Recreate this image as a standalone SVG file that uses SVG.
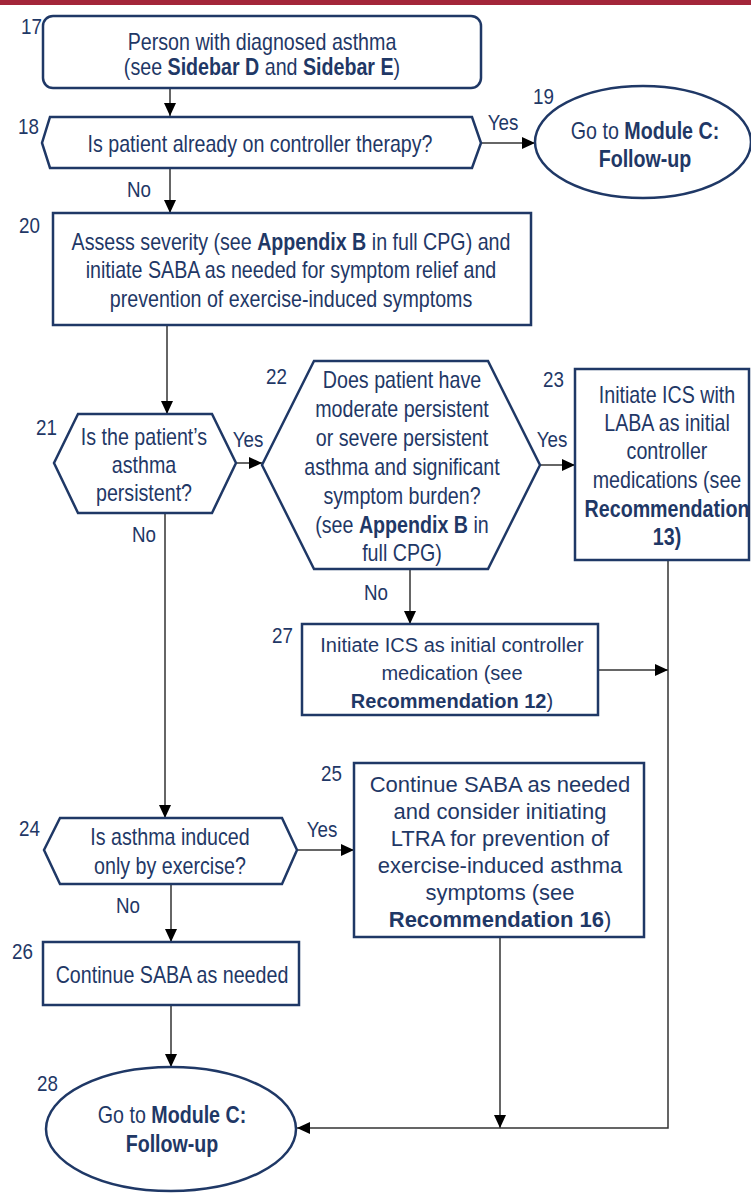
<svg xmlns="http://www.w3.org/2000/svg" width="751" height="1203" viewBox="0 0 751 1203">
<style>
.node{fill:#fff;stroke:#1F3866;stroke-width:2.5}
.t{font-family:"Liberation Sans",Arial,sans-serif;font-size:23px;fill:#1F3866;text-anchor:middle}
.w{font-family:"Liberation Sans",Arial,sans-serif;font-size:22px;fill:#1F3866;text-anchor:middle}
.n{font-family:"Liberation Sans",Arial,sans-serif;font-size:22px;fill:#1F3866}
.lb{font-family:"Liberation Sans",Arial,sans-serif;font-size:22px;fill:#1F3866;text-anchor:middle}
.b{font-weight:bold}
.c{fill:none;stroke:#333;stroke-width:1.5}
</style>
<defs>
<marker id="ah" markerUnits="userSpaceOnUse" markerWidth="13" markerHeight="12" refX="13" refY="6" orient="auto">
<path d="M0,0 L13,6 L0,12 z" fill="#000"/>
</marker>
</defs>
<rect x="0" y="0" width="751" height="5" fill="#A3263A"/>

<g id="connectors">
<path class="c" d="M170,89 V116" marker-end="url(#ah)"/>
<path class="c" d="M481,143 H535" marker-end="url(#ah)"/>
<path class="c" d="M170,168 V213" marker-end="url(#ah)"/>
<path class="c" d="M167,325 V414" marker-end="url(#ah)"/>
<path class="c" d="M236,463 H262" marker-end="url(#ah)"/>
<path class="c" d="M540,465 H575" marker-end="url(#ah)"/>
<path class="c" d="M410,569 V624" marker-end="url(#ah)"/>
<path class="c" d="M165,513 V818" marker-end="url(#ah)"/>
<path class="c" d="M598,670 H668" marker-end="url(#ah)"/>
<path class="c" d="M297,850 H354" marker-end="url(#ah)"/>
<path class="c" d="M171,884 V942" marker-end="url(#ah)"/>
<path class="c" d="M171,1005 V1067" marker-end="url(#ah)"/>
<path class="c" d="M500,937 V1128" marker-end="url(#ah)"/>
<path class="c" d="M668,560 V1128 H297" marker-end="url(#ah)"/>
<text class="lb" transform="matrix(.855 0 0 1 503 130)">Yes</text>
<text class="lb" transform="matrix(.855 0 0 1 139 197)">No</text>
<text class="lb" transform="matrix(.855 0 0 1 248 447)">Yes</text>
<text class="lb" transform="matrix(.855 0 0 1 552 447)">Yes</text>
<text class="lb" transform="matrix(.855 0 0 1 144 542)">No</text>
<text class="lb" transform="matrix(.855 0 0 1 376 600)">No</text>
<text class="lb" transform="matrix(.855 0 0 1 322 837)">Yes</text>
<text class="lb" transform="matrix(.855 0 0 1 128 913)">No</text>
</g>

<g id="n17">
<rect class="node" x="43" y="16" width="438" height="72" rx="10"/>
<text class="n" transform="matrix(.855 0 0 1 21 34)">17</text>
<text class="t" transform="matrix(.855 0 0 1 262 50)">Person with diagnosed asthma</text>
<text class="t" transform="matrix(.855 0 0 1 262 75)">(see <tspan class="b">Sidebar D</tspan> and <tspan class="b">Sidebar E</tspan>)</text>
</g>

<g id="n18">
<polygon class="node" points="50,117 472,117 481,143 472,168 50,168 42,143"/>
<text class="n" transform="matrix(.855 0 0 1 18 134)">18</text>
<text class="t" transform="matrix(.855 0 0 1 260 152)">Is patient already on controller therapy?</text>
</g>

<g id="n19">
<ellipse class="node" cx="643" cy="142" rx="108" ry="56"/>
<text class="n" transform="matrix(.855 0 0 1 533 104)">19</text>
<text class="t" transform="matrix(.855 0 0 1 645 139)">Go to <tspan class="b">Module C:</tspan></text>
<text class="t b" transform="matrix(.855 0 0 1 645 167)">Follow-up</text>
</g>

<g id="n20">
<rect class="node" x="53" y="213" width="478" height="112"/>
<text class="n" transform="matrix(.855 0 0 1 19 233)">20</text>
<text class="t" transform="matrix(.855 0 0 1 291 250)">Assess severity (see <tspan class="b">Appendix B</tspan> in full CPG) and</text>
<text class="t" transform="matrix(.855 0 0 1 291 278)">initiate SABA as needed for symptom relief and</text>
<text class="t" transform="matrix(.855 0 0 1 291 307)">prevention of exercise-induced symptoms</text>
</g>

<g id="n21">
<polygon class="node" points="78,414 212,414 236,463 212,513 78,513 54,463"/>
<text class="n" transform="matrix(.855 0 0 1 36 435)">21</text>
<text class="t" transform="matrix(.855 0 0 1 144 445)">Is the patient’s</text>
<text class="t" transform="matrix(.855 0 0 1 144 473)">asthma</text>
<text class="t" transform="matrix(.855 0 0 1 144 501)">persistent?</text>
</g>

<g id="n22">
<polygon class="node" points="314,361 488,361 540,465 488,569 314,569 262,465"/>
<text class="n" transform="matrix(.855 0 0 1 266 384)">22</text>
<text class="t" transform="matrix(.855 0 0 1 402 388)">Does patient have</text>
<text class="t" transform="matrix(.855 0 0 1 402 417)">moderate persistent</text>
<text class="t" transform="matrix(.855 0 0 1 402 446)">or severe persistent</text>
<text class="t" transform="matrix(.855 0 0 1 402 475)">asthma and significant</text>
<text class="t" transform="matrix(.855 0 0 1 402 504)">symptom burden?</text>
<text class="t" transform="matrix(.855 0 0 1 402 533)">(see <tspan class="b">Appendix B</tspan> in</text>
<text class="t" transform="matrix(.855 0 0 1 402 561)">full CPG)</text>
</g>

<g id="n23">
<rect class="node" x="575" y="369" width="174" height="191"/>
<text class="n" transform="matrix(.855 0 0 1 543 387)">23</text>
<text class="t" transform="matrix(.855 0 0 1 667 403)">Initiate ICS with</text>
<text class="t" transform="matrix(.855 0 0 1 667 431)">LABA as initial</text>
<text class="t" transform="matrix(.855 0 0 1 667 459)">controller</text>
<text class="t" transform="matrix(.855 0 0 1 667 488)">medications (see</text>
<text class="t b" transform="matrix(.855 0 0 1 667 517)">Recommendation</text>
<text class="t b" transform="matrix(.855 0 0 1 667 545)">13)</text>
</g>

<g id="n27">
<rect class="node" x="302" y="624" width="296" height="91"/>
<text class="n" transform="matrix(.855 0 0 1 272 643)">27</text>
<text class="w" x="452" y="652" style="font-size:20px">Initiate ICS as initial controller</text>
<text class="w" x="452" y="680" style="font-size:20px">medication (see</text>
<text class="w" x="452" y="708" style="font-size:20px"><tspan class="b">Recommendation 12</tspan>)</text>
</g>

<g id="n24">
<polygon class="node" points="60,818 282,818 297,850 282,884 60,884 44,850"/>
<text class="n" transform="matrix(.855 0 0 1 19 836)">24</text>
<text class="t" transform="matrix(.855 0 0 1 170 845)">Is asthma induced</text>
<text class="t" transform="matrix(.855 0 0 1 170 874)">only by exercise?</text>
</g>

<g id="n25">
<rect class="node" x="354" y="763" width="290" height="174"/>
<text class="n" transform="matrix(.855 0 0 1 321 781)">25</text>
<text class="w" x="500" y="792">Continue SABA as needed</text>
<text class="w" x="500" y="819">and consider initiating</text>
<text class="w" x="500" y="846">LTRA for prevention of</text>
<text class="w" x="500" y="873">exercise-induced asthma</text>
<text class="w" x="500" y="900">symptoms (see</text>
<text class="w" x="500" y="927"><tspan class="b">Recommendation 16</tspan>)</text>
</g>

<g id="n26">
<rect class="node" x="43" y="942" width="256" height="63"/>
<text class="n" transform="matrix(.855 0 0 1 12 959)">26</text>
<text class="t" transform="matrix(.855 0 0 1 172 983)">Continue SABA as needed</text>
</g>

<g id="n28">
<ellipse class="node" cx="171" cy="1129" rx="125" ry="62"/>
<text class="n" transform="matrix(.855 0 0 1 37 1091)">28</text>
<text class="t" transform="matrix(.855 0 0 1 172 1123)">Go to <tspan class="b">Module C:</tspan></text>
<text class="t b" transform="matrix(.855 0 0 1 172 1152)">Follow-up</text>
</g>
</svg>
